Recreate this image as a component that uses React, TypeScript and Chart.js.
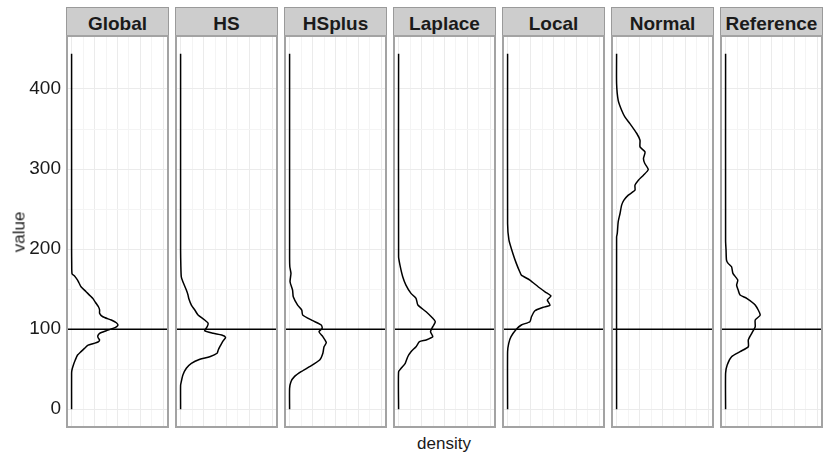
import React, { useEffect, useRef } from 'react';
import { Chart, registerables } from 'chart.js';

Chart.register(...registerables);

// ---------- data ----------
const PANELS = ['Global', 'HS', 'HSplus', 'Laplace', 'Local', 'Normal', 'Reference'];
const REFERENCE_VALUE = 100;

const Y_TICKS = [0, 50, 100, 150, 200, 250, 300, 350, 400];
const Y_TICK_LABELS = ['0', '', '100', '', '200', '', '300', '', '400'];
// density, in units of 1e-3
const X_TICKS = [0, 5, 10, 15, 20, 25, 30, 35, 40];

const Y_MIN = -22.2;
const Y_MAX = 466.2;
const X_MIN = -2;
const X_MAX = 42;

const globalValue = [0, 45, 49, 55, 61.5, 67.7, 72, 76, 80, 82, 84, 86.5, 89, 91.5, 94.8, 98, 101, 103, 105.2, 108, 111.4, 115.5, 119.8, 124, 128, 133, 138.5, 146.8, 153, 158, 161.3, 166.7, 169, 182, 200, 444];
const globalDensity = [0, 0, 0.15, 0.75, 1.6, 2.6, 4.1, 5.6, 7.2, 9.5, 11.5, 12.2, 11.6, 11.4, 12.2, 15.1, 18, 19.5, 20.2, 19.5, 17.3, 13.6, 12.2, 12.2, 11.7, 10.5, 9.2, 6.3, 4.1, 3.2, 2.6, 1.2, 0.2, 0.05, 0, 0];

const hsValue = [0, 30, 34.4, 42.8, 51.2, 57.4, 62.4, 65.6, 69.9, 74, 78.1, 82.3, 85.6, 89.8, 92.7, 94.8, 98, 103.1, 107.3, 111.4, 117.7, 123.9, 130.1, 138, 143, 148.8, 159.2, 165.5, 180, 198, 444];
const hsDensity = [0, 0, 0.3, 1.0, 2.5, 4.7, 8.4, 12.7, 15.9, 16.4, 17.1, 17.9, 18.6, 19.6, 17.9, 14.2, 10.5, 11.6, 12, 10.5, 7.6, 6.2, 4.7, 3.6, 3.2, 2.5, 1.0, 0.3, 0.1, 0, 0];

const hsplusValue = [0, 26, 34.4, 40.7, 46.9, 53.2, 61.5, 69.9, 78.1, 83.1, 90.6, 96.8, 101.1, 105.2, 110.6, 117.7, 123.9, 130.1, 140.5, 148.8, 159.2, 169.7, 178, 190, 444];
const hsplusDensity = [0, 0, 0.6, 2.1, 5, 8.7, 13.1, 14.5, 15, 16, 14.5, 12.8, 14.2, 13.8, 10.1, 5.7, 5.3, 3.5, 1.6, 1.3, 0.2, 0.6, 0.1, 0, 0];

const laplaceValue = [0, 46.9, 51.2, 57.4, 65.6, 71.9, 78.1, 84.3, 86.5, 90.6, 96.8, 103.1, 109.3, 113.5, 121.8, 130.1, 138.5, 144.7, 155.1, 165.5, 180, 190.4, 444];
const laplaceDensity = [0, 0, 1.1, 2.9, 4, 5.4, 7.6, 9.1, 12, 14.9, 13.9, 14.9, 16, 14.9, 12, 8.4, 7.6, 5.4, 3.2, 1.8, 0.6, 0, 0];

const localValue = [0, 71.9, 82.3, 90.6, 99.8, 105.2, 109.3, 115.5, 123, 127.3, 130.1, 136.4, 141.4, 146.7, 153, 161.3, 167.6, 171.7, 182.2, 194.6, 211.2, 232, 444];
const localDensity = [0, 0, 0.5, 1.5, 3.8, 6, 9.7, 10.4, 11.9, 15.5, 18.5, 17.3, 18.9, 16.3, 13.3, 9.7, 6, 5.3, 3.8, 2.3, 0.6, 0, 0];

const normalValue = [0, 215, 219.6, 234.1, 244.5, 254.9, 261.1, 267.4, 273.6, 279.8, 286.1, 292.3, 299.4, 306.9, 313.2, 321.4, 327.7, 336, 344.4, 356.8, 365.1, 373.4, 385.9, 406.8, 444];
const normalDensity = [0, 0, 0.3, 0.7, 1.5, 2.2, 3.2, 5.1, 8, 8, 9.5, 11.7, 13.8, 12.3, 11.7, 12.4, 10.2, 10.2, 8.8, 5.8, 3.6, 2.2, 0.7, 0, 0];

const referenceValue = [0, 45, 55.3, 65.6, 71.9, 78.1, 86.5, 94.8, 103.1, 111.4, 117.7, 130.1, 138.5, 142.6, 148.8, 155, 161.3, 169.7, 178, 182.2, 186.3, 198.8, 210, 444];
const referenceDensity = [0, 0, 0.7, 2.6, 6.3, 9.9, 9.9, 11.4, 12.9, 12.9, 15.1, 12.9, 9.2, 6.3, 5.5, 4.8, 5.3, 3.2, 2.6, 1.1, 0.4, 0.2, 0, 0];

const SERIES_VALUES = [globalValue, hsValue, hsplusValue, laplaceValue, localValue, normalValue, referenceValue];
const SERIES_DENSITY = [globalDensity, hsDensity, hsplusDensity, laplaceDensity, localDensity, normalDensity, referenceDensity];

// ---------- layout / style ----------
const FONT = '"Liberation Sans", Arial, Helvetica, sans-serif';
const PANEL_LEFT0 = 67;
const PANEL_STEP = 109;
const PANEL_W = 101;
const PANEL_TOP = 36;
const PANEL_H = 391;
const STRIP_TOP = 7;
const GRID_MAJOR = '#ebebeb';
const GRID_MINOR = '#f4f4f4';

function Facet({ idx }: { idx: number }) {
  const ref = useRef<HTMLCanvasElement | null>(null);
  const axisW = idx === 0 ? PANEL_LEFT0 : 0;
  const left = idx === 0 ? 0 : PANEL_LEFT0 + idx * PANEL_STEP;
  const width = PANEL_W + axisW;

  useEffect(() => {
    const values = SERIES_VALUES[idx];
    const dens = SERIES_DENSITY[idx];
    const pts = values.map((v, i) => ({ x: dens[i], y: v }));
    const chart = new Chart(ref.current as HTMLCanvasElement, {
      type: 'scatter',
      data: {
        datasets: [
          {
            data: pts,
            showLine: true,
            borderColor: '#000000',
            borderWidth: 1.5,
            pointRadius: 0,
            tension: 0.2,
            fill: false,
          },
          {
            data: [
              { x: X_MIN, y: REFERENCE_VALUE },
              { x: X_MAX, y: REFERENCE_VALUE },
            ],
            showLine: true,
            borderColor: '#000000',
            borderWidth: 1.5,
            pointRadius: 0,
            fill: false,
          },
        ],
      },
      options: {
        animation: false,
        responsive: false,
        maintainAspectRatio: false,
        events: [],
        layout: { padding: 0 },
        plugins: { legend: { display: false }, tooltip: { enabled: false }, title: { display: false } },
        scales: {
          x: {
            type: 'linear',
            position: 'bottom',
            min: X_MIN,
            max: X_MAX,
            border: { display: false },
            grid: {
              drawTicks: false,
              lineWidth: 1,
              color: (ctx: any) => (ctx.tick && ctx.tick.value % 10 === 0 ? GRID_MAJOR : GRID_MINOR),
            },
            ticks: { display: false },
            afterBuildTicks: (s: any) => {
              s.ticks = X_TICKS.map((v) => ({ value: v }));
            },
            afterFit: (s: any) => {
              s.height = 0;
              s.paddingLeft = 0;
              s.paddingRight = 0;
              s.paddingTop = 0;
              s.paddingBottom = 0;
            },
          },
          y: {
            type: 'linear',
            position: 'left',
            min: Y_MIN,
            max: Y_MAX,
            border: { display: false },
            grid: {
              drawTicks: false,
              lineWidth: 1,
              color: (ctx: any) => (ctx.tick && ctx.tick.value % 100 === 0 ? GRID_MAJOR : GRID_MINOR),
            },
            ticks: {
              display: idx === 0,
              padding: 6,
              color: '#1a1a1a',
              font: { family: FONT, size: 19 },
              callback: (v: any) => Y_TICK_LABELS[Y_TICKS.indexOf(Number(v))] ?? '',
            },
            afterBuildTicks: (s: any) => {
              s.ticks = Y_TICKS.map((v) => ({ value: v }));
            },
            afterFit: (s: any) => {
              s.width = axisW;
              s.paddingTop = 0;
              s.paddingBottom = 0;
              s.paddingLeft = 0;
              s.paddingRight = 0;
            },
          },
        },
      },
    } as any);
    return () => chart.destroy();
  }, [idx]);

  return (
    <canvas
      ref={ref}
      width={width}
      height={PANEL_H}
      style={{ position: 'absolute', left, top: PANEL_TOP, width, height: PANEL_H }}
    />
  );
}

export default function App() {
  return (
    <div
      style={{
        position: 'fixed',
        left: 0,
        top: 0,
        width: 830,
        height: 461,
        background: '#ffffff',
        overflow: 'hidden',
        fontFamily: FONT,
      }}
    >
      {PANELS.map((name, i) => (
        <Facet key={name} idx={i} />
      ))}
      {PANELS.map((name, i) => {
        const L = PANEL_LEFT0 + i * PANEL_STEP;
        return (
          <React.Fragment key={'f' + name}>
            <div
              style={{
                position: 'absolute',
                left: L - 1,
                top: STRIP_TOP,
                width: PANEL_W + 2,
                height: PANEL_TOP - STRIP_TOP + 1,
                boxSizing: 'border-box',
                background: '#cdcdcd',
                border: '1px solid #9a9a9a',
                textAlign: 'center',
                fontWeight: 'bold',
                fontSize: 19,
                lineHeight: '31px',
                color: '#1a1a1a',
                whiteSpace: 'nowrap',
              }}
            >
              {name}
            </div>
            <div
              style={{
                position: 'absolute',
                left: L - 1,
                top: PANEL_TOP - 1,
                width: PANEL_W + 2,
                height: PANEL_H + 2,
                boxSizing: 'border-box',
                border: '2px solid #a3a3a3',
              }}
            />
          </React.Fragment>
        );
      })}
      <div
        style={{
          position: 'absolute',
          left: 19,
          top: 231.5,
          transform: 'translate(-50%, -50%) rotate(-90deg)',
          fontSize: 17,
          lineHeight: '17px',
          color: '#1a1a1a',
          whiteSpace: 'nowrap',
        }}
      >
        value
      </div>
      <div
        style={{
          position: 'absolute',
          left: 444,
          top: 435,
          transform: 'translateX(-50%)',
          fontSize: 17,
          lineHeight: '17px',
          color: '#1a1a1a',
          whiteSpace: 'nowrap',
        }}
      >
        density
      </div>
    </div>
  );
}
